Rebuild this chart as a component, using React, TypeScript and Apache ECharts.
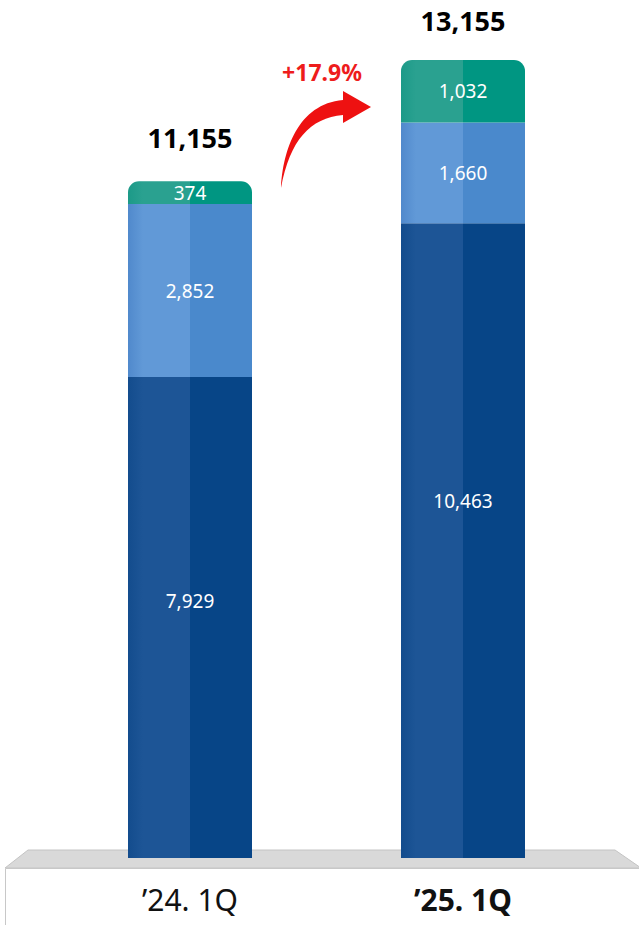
import React, { useEffect, useRef } from "react";
import * as echarts from "echarts";

const categories = ["\u201924. 1Q", "\u201925. 1Q"];
const baseValues = [7929, 10463];
const midValues = [2852, 1660];
const topValues = [374, 1032];
const growthLabel = "+17.9%";

const totals = categories.map((_, i) => baseValues[i] + midValues[i] + topValues[i]);
const fmt = (v: number) => v.toLocaleString("en-US");

const FONT = "Noto Sans";

function splitGradient(edge: string, light: string, base: string) {
  return new echarts.graphic.LinearGradient(0, 0, 1, 0, [
    { offset: 0, color: edge },
    { offset: 0.12, color: light },
    { offset: 0.5, color: light },
    { offset: 0.5, color: base },
    { offset: 1, color: base },
  ]);
}

const arrowD =
  "M281 188 C283 150 298 104 343 100 L343 91 L371 107 L343 123 L343 115 C310 118 290 140 281 188 Z";

echarts.graphic.registerShape("growthArrow", (echarts.graphic as any).extendPath(arrowD, {}));

export default function App() {
  const ref = useRef<HTMLDivElement>(null);
  useEffect(() => {
    if (!ref.current) return;
    const chart = echarts.init(ref.current, undefined, { renderer: "svg" });
    const darkLabelOffsets = [-17, -40];
    const totalOffsets = [-4, 0];
    chart.setOption({
      animation: false,
      backgroundColor: "#ffffff",
      textStyle: { fontFamily: FONT },
      grid: { left: 53.5, right: 39.5, top: 60, bottom: 67, containLabel: false },
      xAxis: {
        type: "category",
        data: categories,
        axisLine: { show: false },
        axisTick: { show: false },
        axisLabel: {
          margin: 26,
          formatter: (v: string, i: number) => (i === 1 ? `{b|${v}}` : `{n|${v}}`),
          rich: {
            n: { fontSize: 30, fontFamily: FONT, color: "#111111", fontWeight: "normal" },
            b: { fontSize: 30, fontFamily: FONT, color: "#111111", fontWeight: "bold" },
          },
        },
      },
      yAxis: { type: "value", min: 0, max: totals[1], show: false, splitLine: { show: false } },
      graphic: [
        {
          type: "polygon",
          z: -10,
          shape: { points: [[28, 850], [615, 850], [641, 868], [5, 868]] },
          style: { fill: "#d9d9d9", stroke: "#c4c4c4", lineWidth: 1 },
        },
        {
          type: "rect",
          z: -10,
          shape: { x: 5.5, y: 868.5, width: 640, height: 70 },
          style: { fill: "#ffffff", stroke: "#c8c8c8", lineWidth: 1 },
        },
        {
          type: "growthArrow",
          z: 10,
          x: 0,
          y: 0,
          style: { fill: "#ee1111" },
        },
        {
          type: "text",
          z: 10,
          x: 322,
          y: 72,
          style: {
            text: growthLabel,
            fill: "#ee1c1c",
            font: `bold 23px "${FONT}"`,
            textAlign: "center",
            textVerticalAlign: "middle",
          },
        },
      ],
      series: [
        {
          type: "bar",
          stack: "s",
          barWidth: 124,
          data: baseValues.map((v, i) => ({
            value: v,
            label: { offset: [0, darkLabelOffsets[i]] },
          })),
          itemStyle: { color: splitGradient("#134c8d", "#1d5596", "#074587") },
          label: {
            show: true,
            position: "inside",
            color: "#ffffff",
            fontSize: 19,
            fontFamily: FONT,
            formatter: (p: any) => fmt(p.value),
          },
        },
        {
          type: "bar",
          stack: "s",
          barWidth: 124,
          data: midValues,
          itemStyle: { color: splitGradient("#5089cc", "#6199d7", "#4a89cc") },
          label: {
            show: true,
            position: "inside",
            color: "#ffffff",
            fontSize: 19,
            fontFamily: FONT,
            formatter: (p: any) => fmt(p.value),
          },
        },
        {
          type: "bar",
          stack: "s",
          barWidth: 124,
          data: topValues,
          itemStyle: {
            color: splitGradient("#1c9a88", "#2aa190", "#009682"),
            borderRadius: [11, 11, 0, 0],
          },
          label: {
            show: true,
            position: "inside",
            color: "#ffffff",
            fontSize: 19,
            fontFamily: FONT,
            formatter: (p: any) => fmt(p.value),
          },
        },
        {
          type: "bar",
          stack: "s",
          barWidth: 124,
          data: totals.map((_, i) => ({ value: 0, label: { offset: [0, totalOffsets[i]] } })),
          itemStyle: { color: "rgba(0,0,0,0)" },
          label: {
            show: true,
            position: "top",
            distance: 26,
            color: "#000000",
            fontSize: 27,
            fontWeight: "bold",
            fontFamily: FONT,
            formatter: (p: any) => fmt(totals[p.dataIndex]),
          },
        },
      ],
    });
    return () => chart.dispose();
  }, []);
  return (
    <div
      ref={ref}
      style={{ position: "fixed", left: 0, top: 0, width: 639, height: 925 }}
    />
  );
}
